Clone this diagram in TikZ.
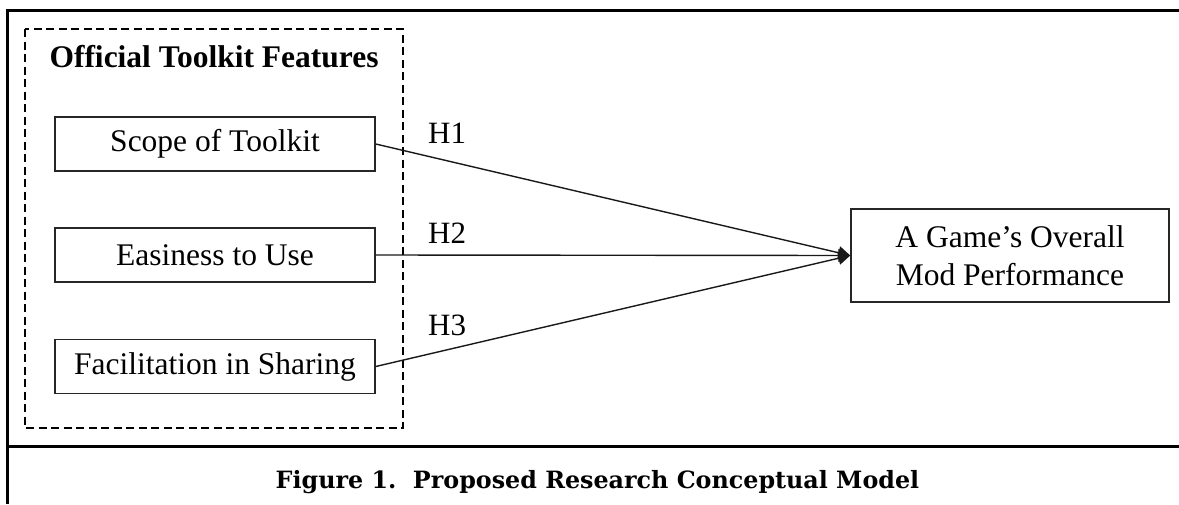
\documentclass[tikz,border=0pt]{standalone}
\usepackage{fontspec}
\setmainfont{Liberation Serif}
\newfontfamily\capfont{DejaVu Serif}
\usetikzlibrary{arrows.meta}
\begin{document}
\begin{tikzpicture}[x=1pt,y=-1pt,
  framel/.style={line width=3pt,black},
  featbox/.style={draw=black!85,line width=1.5pt,minimum width=320pt,minimum height=54pt,inner sep=0pt,font=\fontsize{31.5}{38}\selectfont},
  conn/.style={line width=1.4pt,black!90,-{Triangle[length=12pt,width=13pt]}},
  hlab/.style={anchor=base west,inner sep=0pt,font=\fontsize{31}{38}\selectfont}
]
\useasboundingbox (0,0) rectangle (1179,504);
% outer frame
\draw[framel] (7,504) -- (7,10) -- (1179,10);
\draw[framel] (7,446) -- (1179,446);
% dashed group
\draw[line width=1.3pt,dash pattern=on 8pt off 4.5pt] (25,29) rectangle (403,428);
\node[anchor=base,inner sep=0pt,font=\fontsize{31.5}{38}\selectfont\bfseries] (title) at (214,67) {Official Toolkit Features};
% feature boxes
\node[featbox] (s1) at (215,144) {Scope of Toolkit};
\node[featbox] (s2) at (215,255) {Easiness to Use};
\node[featbox] (s3) at (215,366.5) {Facilitation in Sharing};
% target
\node[draw=black!85,line width=1.5pt,minimum width=318pt,minimum height=93pt,inner sep=0pt,align=center,font=\fontsize{31.5}{38}\selectfont] (t) at (1010,255.5) {A Game’s Overall\\Mod Performance};
% connectors
\draw[conn] (s1.east) -- (t.west);
\draw[conn] (s2.east) -- (t.west);
\draw[conn] (s3.east) -- (t.west);
\node[hlab] (h1) at (428,143) {H1};
\node[hlab] (h2) at (428,243) {H2};
\node[hlab] (h3) at (428,335) {H3};
% caption
\node[anchor=base,inner sep=0pt,font=\fontsize{23.8}{28}\capfont\bfseries] (cap) at (597.5,488) {Figure 1.\ \ Proposed Research Conceptual Model};
\end{tikzpicture}
\end{document}
